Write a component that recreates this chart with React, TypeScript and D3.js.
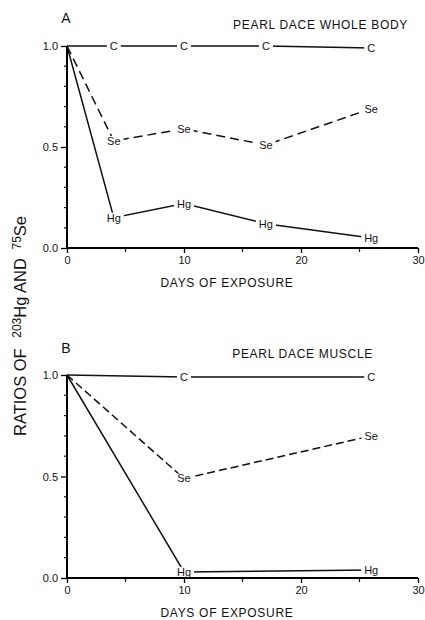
import React, { useEffect, useRef } from "react";
import * as d3 from "d3";

// panel A - pearl dace whole body
const daysA = [0, 4, 10, 17, 26];
const controlA = [1.0, 1.0, 1.0, 1.0, 0.99];
const seleniumA = [1.0, 0.53, 0.59, 0.51, 0.69];
const mercuryA = [1.0, 0.15, 0.22, 0.12, 0.05];

// panel B - pearl dace muscle
const daysB = [0, 10, 26];
const controlB = [1.0, 0.99, 0.99];
const seleniumB = [1.0, 0.49, 0.7];
const mercuryB = [1.0, 0.03, 0.04];

const xTicks = [0, 10, 20, 30];
const xMinorTicks = [5, 15, 25];
const yTicks = [0, 0.5, 1.0];
const yMinorTicks = [0.1, 0.2, 0.3, 0.4, 0.6, 0.7, 0.8, 0.9];

const FONT = "'Liberation Sans', Arial, Helvetica, sans-serif";

const App = () => {
  const svgRef = useRef<SVGSVGElement>(null);

  useEffect(() => {
    const svg = d3.select(svgRef.current);
    svg.selectAll("*").remove();

    const drawPanel = (
      letter: string,
      title: string,
      days: number[],
      series: { name: string; values: number[]; dash: string | null }[],
      yTop: number,
      yBottom: number,
      titleY: number,
      letterY: number
    ) => {
      const x = d3.scaleLinear().domain([0, 30]).range([67, 418]);
      const y = d3.scaleLinear().domain([0, 1]).range([yBottom, yTop]);
      const g = svg.append("g");

      // y axis
      const yAxis = g
        .append("g")
        .attr("transform", `translate(${x(0)},0)`)
        .call(
          d3
            .axisLeft(y)
            .tickValues(yTicks)
            .tickSize(6)
            .tickPadding(3)
            .tickFormat(d3.format(".1f"))
        );
      yAxis.select(".domain").attr("stroke-width", 2).attr("d", `M0,${y(0) + 1}V${y(1)}`);
      yAxis.selectAll(".tick line").attr("stroke-width", 1.3);
      yAxis
        .selectAll("text")
        .style("font-family", FONT)
        .style("font-size", "11px")
        .attr("fill", "#111");
      g.selectAll(".yminor")
        .data(yMinorTicks)
        .enter()
        .append("line")
        .attr("x1", x(0) - 3)
        .attr("x2", x(0))
        .attr("y1", (d) => y(d))
        .attr("y2", (d) => y(d))
        .attr("stroke", "#111")
        .attr("stroke-width", 1.2);

      // x axis
      const xAxis = g
        .append("g")
        .attr("transform", `translate(0,${y(0)})`)
        .call(d3.axisBottom(x).tickValues(xTicks).tickSize(5).tickPadding(3));
      xAxis.select(".domain").attr("stroke-width", 2).attr("d", `M${x(0) - 1},0H${x(30)}`);
      xAxis.selectAll(".tick line").attr("stroke-width", 1.3);
      xAxis
        .selectAll("text")
        .style("font-family", FONT)
        .style("font-size", "11px")
        .attr("fill", "#111");
      g.selectAll(".xminor")
        .data(xMinorTicks)
        .enter()
        .append("line")
        .attr("x1", (d) => x(d))
        .attr("x2", (d) => x(d))
        .attr("y1", y(0))
        .attr("y2", y(0) + 4)
        .attr("stroke", "#111")
        .attr("stroke-width", 1.2);

      g.append("text")
        .attr("x", 227)
        .attr("y", y(0) + 39)
        .attr("text-anchor", "middle")
        .style("font-family", FONT)
        .style("font-size", "12px")
        .style("letter-spacing", "0.7px")
        .attr("fill", "#111")
        .text("DAYS OF EXPOSURE");

      // panel letter and title
      g.append("text")
        .attr("x", 66)
        .attr("y", letterY)
        .attr("text-anchor", "middle")
        .style("font-family", FONT)
        .style("font-size", "14px")
        .attr("fill", "#111")
        .text(letter);
      g.append("text")
        .attr("x", title.includes("WHOLE") ? 408 : 373)
        .attr("y", titleY)
        .attr("text-anchor", "end")
        .style("font-family", FONT)
        .style("font-size", "12px")
        .style("letter-spacing", "0.7px")
        .attr("fill", "#111")
        .text(title);

      // lines
      const line = d3
        .line<number>()
        .x((_, i) => x(days[i]))
        .y((d) => y(d));

      series.forEach((s) => {
        g.append("path")
          .datum(s.values)
          .attr("d", line)
          .attr("fill", "none")
          .attr("stroke", "#111")
          .attr("stroke-width", 1.5)
          .attr("stroke-dasharray", s.dash);
      });

      // text markers at each point except the origin
      series.forEach((s) => {
        s.values.forEach((v, i) => {
          if (i === 0) return;
          const lg = g.append("g").attr("transform", `translate(${x(days[i])},${y(v)})`);
          const bg = lg.append("rect").attr("fill", "white");
          const t = lg
            .append("text")
            .attr("text-anchor", "middle")
            .attr("dy", "0.36em")
            .style("font-family", FONT)
            .style("font-size", "11px")
            .attr("fill", "#111")
            .text(s.name);
          const bb = (t.node() as SVGTextElement).getBBox();
          bg.attr("x", bb.x - 3)
            .attr("y", -5)
            .attr("width", bb.width + 6)
            .attr("height", 10);
        });
      });
    };

    drawPanel(
      "A",
      "PEARL DACE WHOLE BODY",
      daysA,
      [
        { name: "C", values: controlA, dash: null },
        { name: "Se", values: seleniumA, dash: "9,5" },
        { name: "Hg", values: mercuryA, dash: null },
      ],
      46,
      248,
      29,
      23
    );

    drawPanel(
      "B",
      "PEARL DACE MUSCLE",
      daysB,
      [
        { name: "C", values: controlB, dash: null },
        { name: "Se", values: seleniumB, dash: "8,4" },
        { name: "Hg", values: mercuryB, dash: null },
      ],
      375,
      578,
      358,
      353
    );

    // shared y-axis title
    const yt = svg
      .append("text")
      .attr("transform", "translate(26,326) rotate(-90)")
      .attr("text-anchor", "middle")
      .style("font-family", FONT)
      .style("font-size", "16.5px")
      .attr("fill", "#111");
    yt.append("tspan").text("RATIOS OF ");
    yt.append("tspan").attr("dx", 6).attr("dy", -5).style("font-size", "12px").text("203");
    yt.append("tspan").attr("dy", 5).text("Hg AND ");
    yt.append("tspan").attr("dx", 4).attr("dy", -5).style("font-size", "12px").text("75");
    yt.append("tspan").attr("dy", 5).text("Se");
  }, []);

  return (
    <svg
      ref={svgRef}
      width={425}
      height={620}
      style={{ position: "absolute", left: 0, top: 0, background: "white" }}
    ></svg>
  );
};

export default App;
